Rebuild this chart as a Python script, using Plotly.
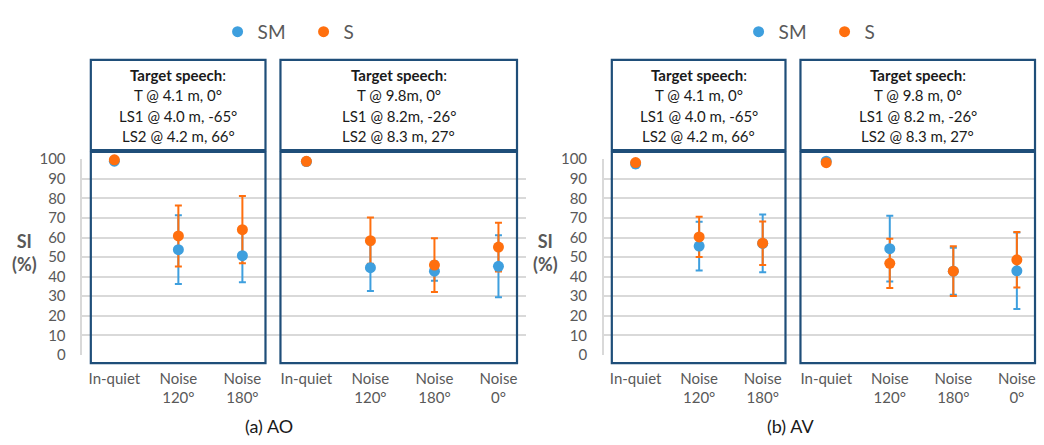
import plotly.graph_objects as go

# ---- data -------------------------------------------------------------
conditions = ["In-quiet", "Noise<br>120°", "Noise<br>180°",
              "In-quiet", "Noise<br>120°", "Noise<br>180°", "Noise<br>0°"]
positions = list(range(len(conditions)))

# Audio-only (AO)
sm_ao = [99.0, 53.8, 50.7, 98.8, 44.6, 42.8, 45.3]
sm_ao_err = [0.5, 17.6, 13.6, 0.5, 11.9, 4.9, 15.8]
s_ao = [99.7, 60.8, 64.0, 98.9, 58.4, 45.9, 55.1]
s_ao_err = [0.5, 15.6, 17.2, 0.5, 11.8, 13.7, 12.5]

# Audio-visual (AV)
sm_av = [97.6, 55.6, 57.0, 99.0, 54.3, 42.8, 43.0]
sm_av_err = [1.8, 12.4, 14.7, 0.5, 16.8, 12.0, 19.5]
s_av = [98.3, 60.3, 57.1, 98.2, 46.8, 42.8, 48.6]
s_av_err = [0.8, 10.3, 11.1, 0.5, 12.6, 12.7, 14.2]

setup_near = ["<b>Target speech</b>:", "T @ 4.1 m, 0°",
              "LS1 @ 4.0 m, -65°", "LS2 @ 4.2 m, 66°"]
setup_far_ao = ["<b>Target speech</b>:", "T @ 9.8m, 0°",
                "LS1 @ 8.2m, -26°", "LS2 @ 8.3 m, 27°"]
setup_far_av = ["<b>Target speech</b>:", "T @ 9.8 m, 0°",
                "LS1 @ 8.2 m, -26°", "LS2 @ 8.3 m, 27°"]

# ---- styling ----------------------------------------------------------
W, H = 1044, 445
BLUE = "#3E9FDE"
ORANGE = "#FF6F0E"
BOX = "#1F4E79"
GRID = "#D9D9D9"
GREY_TXT = "#595959"
FONT = "Lato"


def px(x):
    return x / W


def py(y):
    return 1 - y / H


fig = go.Figure()


def add_panel(xa, ya, sm, sm_err, s, s_err, legend):
    # error bars first so that all markers sit on top of them
    for vals, errs, col in ((sm, sm_err, BLUE), (s, s_err, ORANGE)):
        fig.add_trace(go.Scatter(
            x=positions, y=vals, mode="markers", xaxis=xa, yaxis=ya,
            marker=dict(size=2, color="rgba(0,0,0,0)"),
            error_y=dict(type="data", array=errs, visible=True,
                         color=col, thickness=2, width=3.5),
            showlegend=False, hoverinfo="skip", cliponaxis=False))
    for name, vals, col in (("SM", sm, BLUE), ("S", s, ORANGE)):
        fig.add_trace(go.Scatter(
            x=positions, y=vals, mode="markers", name=name,
            xaxis=xa, yaxis=ya, legend=legend,
            marker=dict(size=11, color=col), cliponaxis=False))


add_panel("x", "y", sm_ao, sm_ao_err, s_ao, s_ao_err, "legend")
add_panel("x2", "y2", sm_av, sm_av_err, s_av, s_av_err, "legend2")

xcommon = dict(tickmode="array", tickvals=positions, ticktext=conditions,
               showgrid=False, zeroline=False, showline=False,
               ticks="outside", ticklen=0, ticklabelstandoff=10,
               tickfont=dict(family=FONT, size=15, color=GREY_TXT))
ycommon = dict(range=[0, 100], dtick=10, tick0=0,
               domain=[py(359.5), py(155.5)],
               showgrid=True, gridcolor=GRID, gridwidth=1.5,
               zeroline=False, showline=True, linecolor=GRID, linewidth=1.5,
               ticks="outside", ticklen=0, ticklabelstandoff=12,
               tickfont=dict(family=FONT, size=15, color=GREY_TXT))

legend_common = dict(orientation="h", xanchor="left", yanchor="top",
                     entrywidth=41, entrywidthmode="pixels",
                     font=dict(family=FONT, size=19, color=GREY_TXT),
                     itemsizing="trace", bgcolor="rgba(0,0,0,0)")

fig.update_layout(
    width=W, height=H,
    margin=dict(l=0, r=0, t=0, b=0),
    paper_bgcolor="white", plot_bgcolor="white",
    font=dict(family=FONT, color=GREY_TXT),
    xaxis=dict(domain=[px(82.5), px(527)], range=[-0.5, 6.43], **xcommon),
    xaxis2=dict(domain=[px(605), px(1036)], range=[-0.5, 6.27],
                anchor="y2", **xcommon),
    yaxis=dict(anchor="x", **ycommon),
    yaxis2=dict(anchor="x2", **ycommon),
    legend=dict(x=px(218), y=py(3), **legend_common),
    legend2=dict(x=px(740), y=py(3), **legend_common),
)

# condition boxes: a text box on top of each plotting box
boxes = [(91, 266, setup_near), (281, 518, setup_far_ao),
         (613, 787, setup_near), (802, 1037, setup_far_av)]
for x0, x1, lines in boxes:
    fig.add_shape(type="rect", xref="paper", yref="paper",
                  x0=px(x0), x1=px(x1), y0=py(146), y1=py(52),
                  line=dict(color=BOX, width=2.2), layer="above")
    fig.add_shape(type="rect", xref="paper", yref="paper",
                  x0=px(x0), x1=px(x1), y0=py(368), y1=py(148),
                  line=dict(color=BOX, width=2.2), layer="above")
    for i, line in enumerate(lines):
        fig.add_annotation(text=line, xref="paper", yref="paper",
                           x=px((x0 + x1) / 2), y=py(68 + 21 * i),
                           xanchor="center", yanchor="middle",
                           showarrow=False,
                           font=dict(family=FONT, size=15, color="#1A1A1A"))

# y-axis titles
for xc in (24.5, 547):
    fig.add_annotation(text="<b>SI</b><br><b>(%)</b>", xref="paper",
                       yref="paper", x=px(xc), y=py(253),
                       xanchor="center", yanchor="middle", showarrow=False,
                       font=dict(family=FONT, size=18, color=GREY_TXT))

# sub-figure captions
for xc, cap in ((270, "(a) AO"), (792, "(b) AV")):
    fig.add_annotation(text=cap, xref="paper", yref="paper",
                       x=px(xc), y=py(434), xanchor="center",
                       yanchor="middle", showarrow=False,
                       font=dict(family=FONT, size=18, color="#1A1A1A"))

fig.write_html("out.html")
